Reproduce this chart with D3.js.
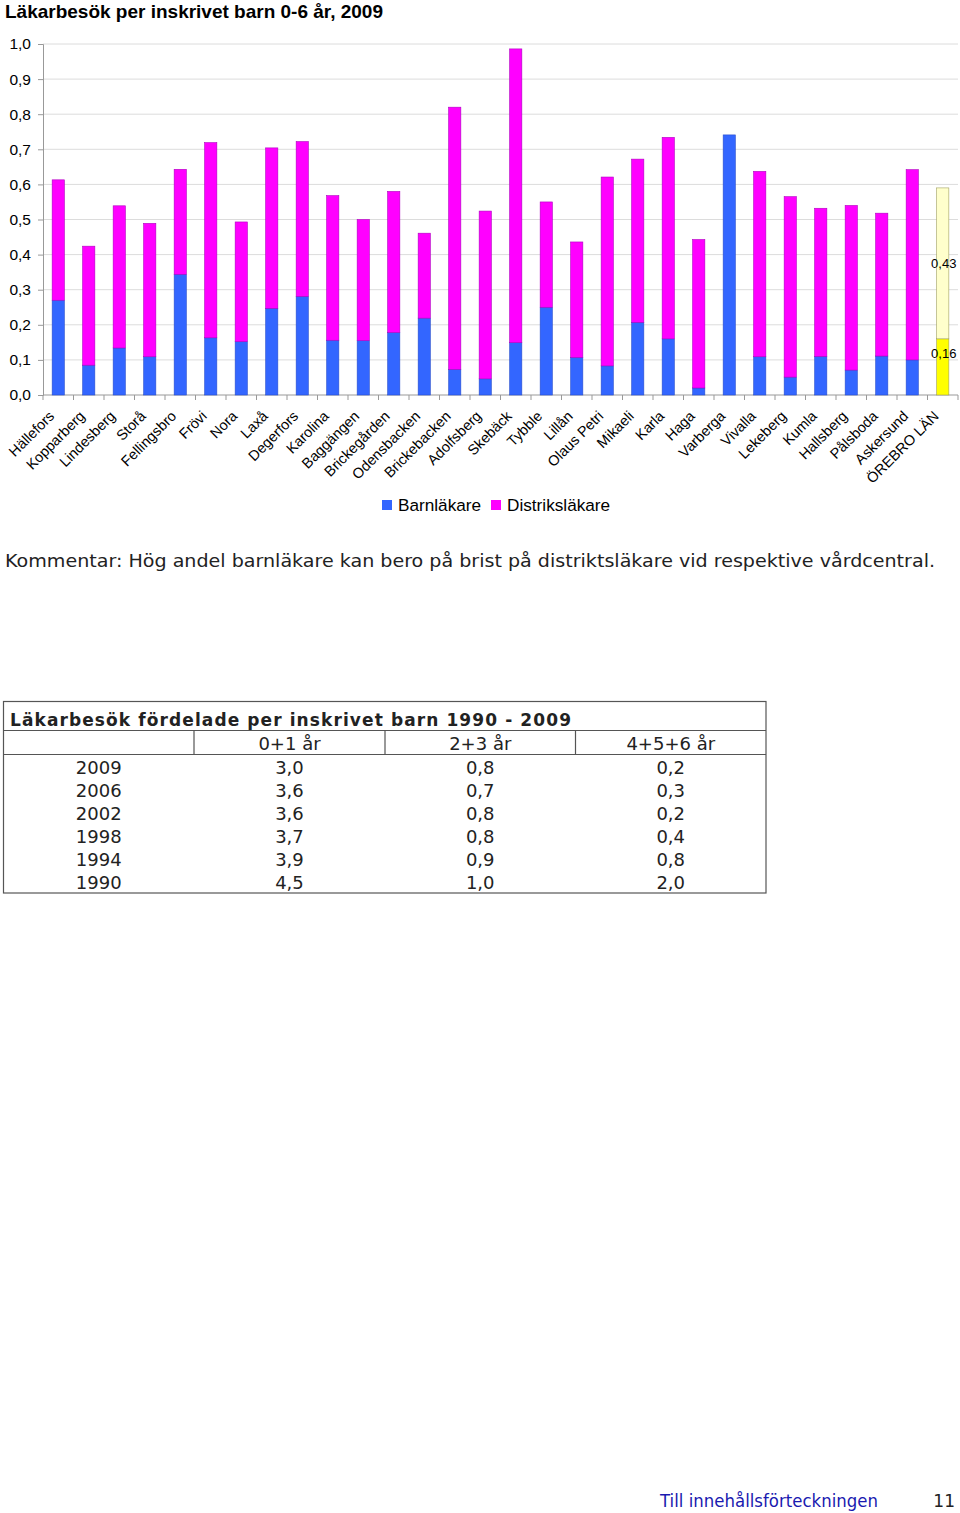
<!DOCTYPE html>
<html><head><meta charset="utf-8">
<script src="https://cdnjs.cloudflare.com/ajax/libs/d3/7.8.5/d3.min.js"></script>
<style>
body{margin:0;background:#fff;}
svg{display:block;}
</style></head>
<body>
<svg id="c" width="960" height="1513"></svg>
<script>
// ---------- data ----------
const categories = ["Hällefors","Kopparberg","Lindesberg","Storå","Fellingsbro","Frövi","Nora","Laxå","Degerfors","Karolina","Baggängen","Brickegården","Odensbacken","Brickebacken","Adolfsberg","Skebäck","Tybble","Lillån","Olaus Petri","Mikaeli","Karla","Haga","Varberga","Vivalla","Lekeberg","Kumla","Hallsberg","Pålsboda","Askersund","ÖREBRO LÄN"];
const barnlakare =     [0.27,0.085,0.134,0.109,0.344,0.163,0.152,0.247,0.281,0.156,0.155,0.178,0.219,0.073,0.046,0.149,0.25,0.107,0.083,0.207,0.16,0.02,0.741,0.109,0.051,0.11,0.071,0.111,0.10,0.16];
const distriktslakare = [0.343,0.339,0.405,0.38,0.299,0.556,0.341,0.457,0.441,0.412,0.345,0.402,0.242,0.747,0.478,0.837,0.30,0.329,0.538,0.465,0.574,0.423,0,0.528,0.514,0.422,0.469,0.407,0.542,0.43];
const yTicks = [0,0.1,0.2,0.3,0.4,0.5,0.6,0.7,0.8,0.9,1.0];
const seriesNames = ["Barnläkare","Distriksläkare"];

const tableTitle = "Läkarbesök fördelade per inskrivet barn 1990 - 2009";
const tableHeaders = ["","0+1 år","2+3 år","4+5+6 år"];
const tableYears = ["2009","2006","2002","1998","1994","1990"];
const age01 = ["3,0","3,6","3,6","3,7","3,9","4,5"];
const age23 = ["0,8","0,7","0,8","0,8","0,9","1,0"];
const age456 = ["0,2","0,3","0,2","0,4","0,8","2,0"];

// ---------- setup ----------
const svg = d3.select("#c");
const sans = "'Liberation Sans', Arial, sans-serif";
const verd = "'DejaVu Sans', Verdana, sans-serif";
const comma = d3.formatLocale({decimal:",",thousands:" ",grouping:[3],currency:["",""]});
const f1 = comma.format(".1f"), f2 = comma.format(".2f");

svg.append("text").attr("x",5).attr("y",18).attr("font-family",sans)
  .attr("font-size",19).attr("font-weight","bold")
  .attr("textLength",378).attr("lengthAdjust","spacingAndGlyphs")
  .text("Läkarbesök per inskrivet barn 0-6 år, 2009");

const x = d3.scaleBand().domain(categories).range([43,958]).paddingInner(0.6).paddingOuter(0.3);
const y = d3.scaleLinear().domain([0,1]).range([395,44]);

// gridlines
svg.append("g").selectAll("line").data(yTicks.slice(1)).join("line")
  .attr("x1",43).attr("x2",958).attr("y1",d=>y(d)).attr("y2",d=>y(d))
  .attr("stroke","#dcdcdc").attr("stroke-width",1);

// y axis
const yAxis = d3.axisLeft(y).tickValues(yTicks).tickFormat(f1).tickSize(5).tickPadding(7);
const gy = svg.append("g").attr("transform","translate(43,0)").call(yAxis);
gy.select(".domain").attr("stroke","#999");
gy.selectAll(".tick line").attr("stroke","#999");
gy.selectAll("text").attr("font-family",sans).attr("font-size",15.5).attr("fill","#000");

// x axis line + ticks at boundaries
const step = x.step();
const bounds = d3.range(categories.length+1).map(i=>43+i*step);
svg.append("line").attr("x1",43).attr("x2",958).attr("y1",y(0)).attr("y2",y(0)).attr("stroke","#999");
svg.append("g").selectAll("line").data(bounds).join("line")
  .attr("x1",d=>d).attr("x2",d=>d).attr("y1",y(0)).attr("y2",y(0)+5).attr("stroke","#999");

// bars
const stack = categories.map((c,i)=>({c,i,b:barnlakare[i],d:distriktslakare[i]}));
const last = categories.length-1;
const gb = svg.append("g");
gb.selectAll("rect.b").data(stack).join("rect").attr("class","b")
  .attr("x",d=>x(d.c)).attr("width",x.bandwidth())
  .attr("y",d=>y(d.b)).attr("height",d=>y(0)-y(d.b))
  .attr("fill",d=>d.i===last?"#ffff00":"#3366ff")
  .attr("stroke",d=>d.i===last?"#a0a060":"#2a4fcc").attr("stroke-width",0.6);
gb.selectAll("rect.d").data(stack.filter(d=>d.d>0)).join("rect").attr("class","d")
  .attr("x",d=>x(d.c)).attr("width",x.bandwidth())
  .attr("y",d=>y(d.b+d.d)).attr("height",d=>y(d.b)-y(d.b+d.d))
  .attr("fill",d=>d.i===last?"#ffffcc":"#ff00ff")
  .attr("stroke",d=>d.i===last?"#a0a060":"#b000c0").attr("stroke-width",0.6);

// value labels on the county bar
const L = stack[last];
svg.append("text").attr("x",x(L.c)+x.bandwidth()/2+1).attr("y",y(L.b+L.d/2)+5)
  .attr("text-anchor","middle").attr("font-family",sans).attr("font-size",13).text(f2(L.d));
svg.append("text").attr("x",x(L.c)+x.bandwidth()/2+1).attr("y",y(L.b)+19)
  .attr("text-anchor","middle").attr("font-family",sans).attr("font-size",13).text(f2(L.b));

// x labels
svg.append("g").selectAll("text").data(categories).join("text")
  .attr("transform",d=>`translate(${x(d)+x.bandwidth()/2-3},${y(0)+22}) rotate(-45)`)
  .attr("text-anchor","end").attr("font-family",sans).attr("font-size",14.5).text(d=>d);

// legend
const leg = svg.append("g");
const legX = [382,491];
seriesNames.forEach((n,i)=>{
  leg.append("rect").attr("x",legX[i]).attr("y",500).attr("width",10).attr("height",10)
    .attr("fill",i?"#ff00ff":"#3366ff");
  leg.append("text").attr("x",legX[i]+16).attr("y",511).attr("font-family",sans).attr("font-size",17.2).text(n);
});

// comment
svg.append("text").attr("x",5).attr("y",567).attr("font-family",verd).attr("font-size",17.5).attr("fill","#222")
  .attr("textLength",930).attr("lengthAdjust","spacingAndGlyphs")
  .text("Kommentar: Hög andel barnläkare kan bero på brist på distriktsläkare vid respektive vårdcentral.");

// ---------- table ----------
const tb = svg.append("g");
const tx0=3.5, tx1=766, ty0=701.5, ty1=893, tyTitle=730.5, tyHead=754.5;
const colX = [3.5,194,385,575.5,766];
const rowH = 23;
tb.append("rect").attr("x",tx0).attr("y",ty0).attr("width",tx1-tx0).attr("height",ty1-ty0)
  .attr("fill","none").attr("stroke","#555").attr("stroke-width",1.2);
tb.append("line").attr("x1",tx0).attr("x2",tx1).attr("y1",tyTitle).attr("y2",tyTitle).attr("stroke","#555").attr("stroke-width",1.2);
tb.append("line").attr("x1",tx0).attr("x2",tx1).attr("y1",tyHead).attr("y2",tyHead).attr("stroke","#555").attr("stroke-width",1.2);
tb.selectAll("line.v").data(colX.slice(1,4)).join("line").attr("class","v")
  .attr("x1",d=>d).attr("x2",d=>d).attr("y1",tyTitle).attr("y2",tyHead).attr("stroke","#555").attr("stroke-width",1.2);
tb.append("text").attr("x",10).attr("y",726).attr("font-family",verd).attr("font-size",17).attr("font-weight","bold")
  .attr("fill","#222").attr("textLength",561).attr("lengthAdjust","spacing").text(tableTitle);
const colC = d3.range(4).map(i=>(colX[i]+colX[i+1])/2);
tb.selectAll("text.h").data(tableHeaders).join("text").attr("class","h")
  .attr("x",(d,i)=>colC[i]).attr("y",750).attr("text-anchor","middle")
  .attr("font-family",verd).attr("font-size",18).attr("fill","#222").text(d=>d);
const rows = tableYears.map((yr,i)=>[yr,age01[i],age23[i],age456[i]]);
rows.forEach((r,ri)=>{
  tb.selectAll(null).data(r).join("text")
    .attr("x",(d,i)=>colC[i]).attr("y",774+ri*rowH).attr("text-anchor","middle")
    .attr("font-family",verd).attr("font-size",18).attr("fill","#222").text(d=>d);
});

// footer
svg.append("text").attr("x",660).attr("y",1507).attr("font-family",verd).attr("font-size",16.8)
  .attr("fill","#1a1ab0").attr("textLength",218).attr("lengthAdjust","spacingAndGlyphs").text("Till innehållsförteckningen");
svg.append("text").attr("x",955).attr("y",1507).attr("text-anchor","end").attr("font-family",verd).attr("font-size",17)
  .attr("fill","#222").text("11");
</script>
</body></html>
